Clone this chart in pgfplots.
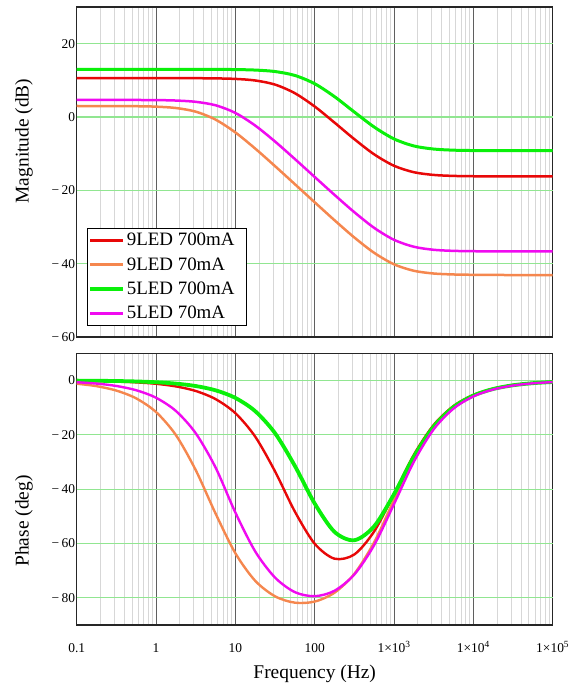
\documentclass[border=0pt]{standalone}
\usepackage{fontspec}
\setmainfont{Liberation Serif}
\usepackage{pgfplots}
\usepackage{pgfplotstable}
\pgfplotsset{compat=1.18}

\definecolor{cRed}{RGB}{232,8,8}
\definecolor{cOrange}{RGB}{245,135,78}
\definecolor{cGreen}{RGB}{10,240,10}
\definecolor{cMag}{RGB}{240,10,240}
\definecolor{gridGreen}{RGB}{145,230,145}
\definecolor{gridMinor}{RGB}{215,215,215}
\definecolor{gridMajor}{RGB}{95,95,95}

% magnitude (dB)
\pgfplotstableread{
f       red     orange  green   mag
0.1     10.60   3.00    13.00   4.66
0.1778  10.60   2.99    13.00   4.66
0.3162  10.60   2.98    13.00   4.65
0.5623  10.60   2.94    13.00   4.64
1       10.60   2.82    13.00   4.61
1.778   10.59   2.45    13.00   4.49
3.162   10.58   1.46    12.99   4.14
5.623   10.53   -0.71   12.98   3.20
10      10.39   -4.21   12.94   1.11
17.78   9.96    -8.61   12.80   -2.33
31.62   8.84    -13.40  12.40   -6.69
56.23   6.49    -18.32  11.33   -11.46
100     2.86    -23.26  9.07    -16.36
177.8   -1.53   -28.16  5.55    -21.24
316.2   -6.05   -32.87  1.35    -25.97
562.3   -10.19  -37.05  -2.74   -30.24
1000    -13.30  -40.18  -5.98   -33.50
1778    -15.06  -41.94  -7.90   -35.39
3162    -15.80  -42.69  -8.74   -36.22
5623    -16.07  -42.95  -9.05   -36.51
10000   -16.16  -43.04  -9.15   -36.61
17783   -16.19  -43.08  -9.18   -36.64
31623   -16.20  -43.10  -9.20   -36.65
56234   -16.20  -43.10  -9.20   -36.65
100000  -16.20  -43.10  -9.20   -36.65
}\magtable

% phase (deg)
\pgfplotstableread{
f       red     orange  green   mag
0.1     -0.12   -1.18   -0.06   -0.64
0.1778  -0.22   -2.09   -0.11   -1.14
0.3162  -0.39   -3.72   -0.20   -2.02
0.5623  -0.69   -6.59   -0.36   -3.59
1       -1.22   -11.61  -0.65   -6.36
1.778   -2.18   -20.07  -1.15   -11.21
3.162   -3.86   -32.96  -2.04   -19.40
5.623   -6.85   -48.94  -3.62   -32.00
10      -12.03  -63.58  -6.42   -48.60
17.78   -20.66  -73.72  -11.29  -62.90
31.62   -33.45  -79.43  -19.40  -72.54
56.23   -48.25  -81.78  -31.44  -77.90
100     -60.09  -81.37  -45.28  -79.40
177.8   -65.59  -78.10  -55.72  -77.39
316.2   -64.03  -71.15  -58.80  -71.40
562.3   -55.54  -59.53  -53.65  -60.57
1000    -41.77  -43.99  -41.83  -45.47
1778    -27.35  -28.57  -28.02  -29.91
3162    -16.36  -17.05  -16.96  -17.96
5623    -9.40   -9.79   -9.79   -10.34
10000   -5.32   -5.54   -5.55   -5.86
17783   -3.00   -3.12   -3.13   -3.30
31623   -1.69   -1.76   -1.76   -1.86
56234   -0.95   -0.99   -0.99   -1.04
100000  -0.53   -0.56   -0.56   -0.59
}\phasetable

\pgfplotsset{
  bode/.style={
    scale only axis, width=476bp,
    xmin=0.1, xmax=100000,
    axis line style={line width=1.3bp, black!85},
    tick style={draw=none},
    major tick length=0pt, minor tick length=0pt,
    xmajorgrids, xminorgrids,
    major grid style={gridMajor, line width=0.9bp},
    minor grid style={gridMinor, line width=0.9bp},
    extra y tick style={grid=major, major grid style={gridGreen, line width=1.1bp}},
    extra y tick labels={},
    tick label style={font=\fontsize{13.5}{16}\selectfont},
    label style={font=\fontsize{19.5}{23}\selectfont},
    yticklabel style={inner xsep=1.5bp},
  },
}

\begin{document}
\begin{tikzpicture}
\useasboundingbox (0,0) rectangle (584bp,-685bp);

\begin{semilogxaxis}[bode,
  at={(76.7bp,-7bp)}, anchor=north west, height=330bp,
  ymin=-60, ymax=30,
  ytick={-60,-40,-20,0,20},
  yticklabels={−\,60,−\,40,−\,20,0,20},
  extra y ticks={-40,-20,0,20},
  xticklabels={},
  ylabel={Magnitude (dB)},
  ylabel style={at={(axis description cs:-0.1107,0.594)}, anchor=center},
  legend image code/.code={\draw[#1, line width=3.2bp] (0bp,0bp) -- (33bp,0bp);},
  legend style={at={(axis description cs:0.0216,0.033)}, anchor=south west,
    draw=black, line width=1.3bp, fill=white, row sep=6.3bp,
    font=\fontsize{19}{22}\selectfont, inner xsep=1bp, inner ysep=3bp},
  legend cell align=left,
]
\addplot[cRed, line width=2.5bp, smooth] table[x=f, y=red] {\magtable};
\addlegendentry{9LED 700mA\rule{9bp}{0pt}}
\addplot[cOrange, line width=2.5bp, smooth] table[x=f, y=orange] {\magtable};
\addlegendentry{9LED 70mA}
\addplot[cGreen, line width=3bp, smooth] table[x=f, y=green] {\magtable};
\addlegendentry{5LED 700mA}
\addplot[cMag, line width=2.5bp, smooth] table[x=f, y=mag] {\magtable};
\addlegendentry{5LED 70mA}
\end{semilogxaxis}

\begin{semilogxaxis}[bode,
  at={(76.7bp,-353.3bp)}, anchor=north west, height=271.7bp,
  ymin=-90, ymax=10,
  ytick={-80,-60,-40,-20,0},
  yticklabels={−\,80,−\,60,−\,40,−\,20,0},
  extra y ticks={-80,-60,-40,-20,0},
  xticklabels={{},0.1,1,10,100,1×10\textsuperscript{3},1×10\textsuperscript{4},1×10\textsuperscript{5}},
  xticklabel style={anchor=base, yshift=-27.5bp},
  xlabel={Frequency (Hz)},
  xlabel style={at={(axis description cs:0.5,0)}, anchor=base, yshift=-53bp},
  ylabel={Phase (deg)},
  ylabel style={at={(axis description cs:-0.1107,0.383)}, anchor=center},
]
\addplot[cRed, line width=2.4bp, smooth] table[x=f, y=red] {\phasetable};
\addplot[cOrange, line width=2.4bp, smooth] table[x=f, y=orange] {\phasetable};
\addplot[cGreen, line width=3.8bp, smooth] table[x=f, y=green] {\phasetable};
\addplot[cMag, line width=2.4bp, smooth] table[x=f, y=mag] {\phasetable};
\end{semilogxaxis}
\end{tikzpicture}
\end{document}
